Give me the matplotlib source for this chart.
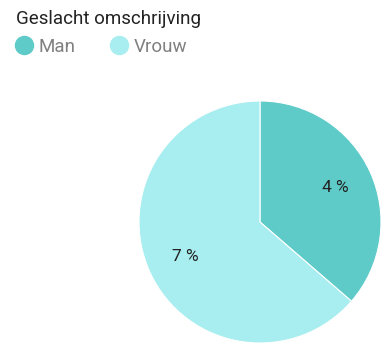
import matplotlib.pyplot as plt
from matplotlib.lines import Line2D

categories = ["Man", "Vrouw"]
values = [4, 7]
value_labels = ["4 %", "7 %"]
colors = ["#5ecbc8", "#a8eef0"]

W, H = 384, 347
fig = plt.figure(figsize=(W / 100, H / 100), dpi=100)
plt.rcParams["font.family"] = ["Roboto", "DejaVu Sans"]

# pie area: centre ~(260, 222) px, radius ~121 px
ax = fig.add_axes([139 / W, 1 - 343 / H, 242 / W, 242 / H])
wedges, texts = ax.pie(values, labels=value_labels, colors=colors, startangle=90,
                       counterclock=False, labeldistance=0.68,
                       wedgeprops=dict(edgecolor="white", linewidth=0.8),
                       textprops=dict(fontsize=12.5, color="#222222", ha="center", va="center"))
ax.set_xlim(-1, 1)
ax.set_ylim(-1, 1)
ax.set_aspect("equal")

fig.text(16 / W, 1 - 19 / H, "Geslacht omschrijving", fontsize=13.5, color="#222222",
         ha="left", va="center")
handles = [Line2D([], [], marker="o", linestyle="", markersize=13,
                  markerfacecolor=c, markeredgecolor=c) for c in colors]
leg = fig.legend(handles, categories, loc="center left", bbox_to_anchor=(7 / W, 1 - 47 / H),
                 ncol=2, frameon=False, fontsize=13.5, handletextpad=0.3, columnspacing=1.8,
                 handlelength=1.0, borderaxespad=0)
for t in leg.get_texts():
    t.set_color("#808080")

fig.savefig("out.png", dpi=100)
